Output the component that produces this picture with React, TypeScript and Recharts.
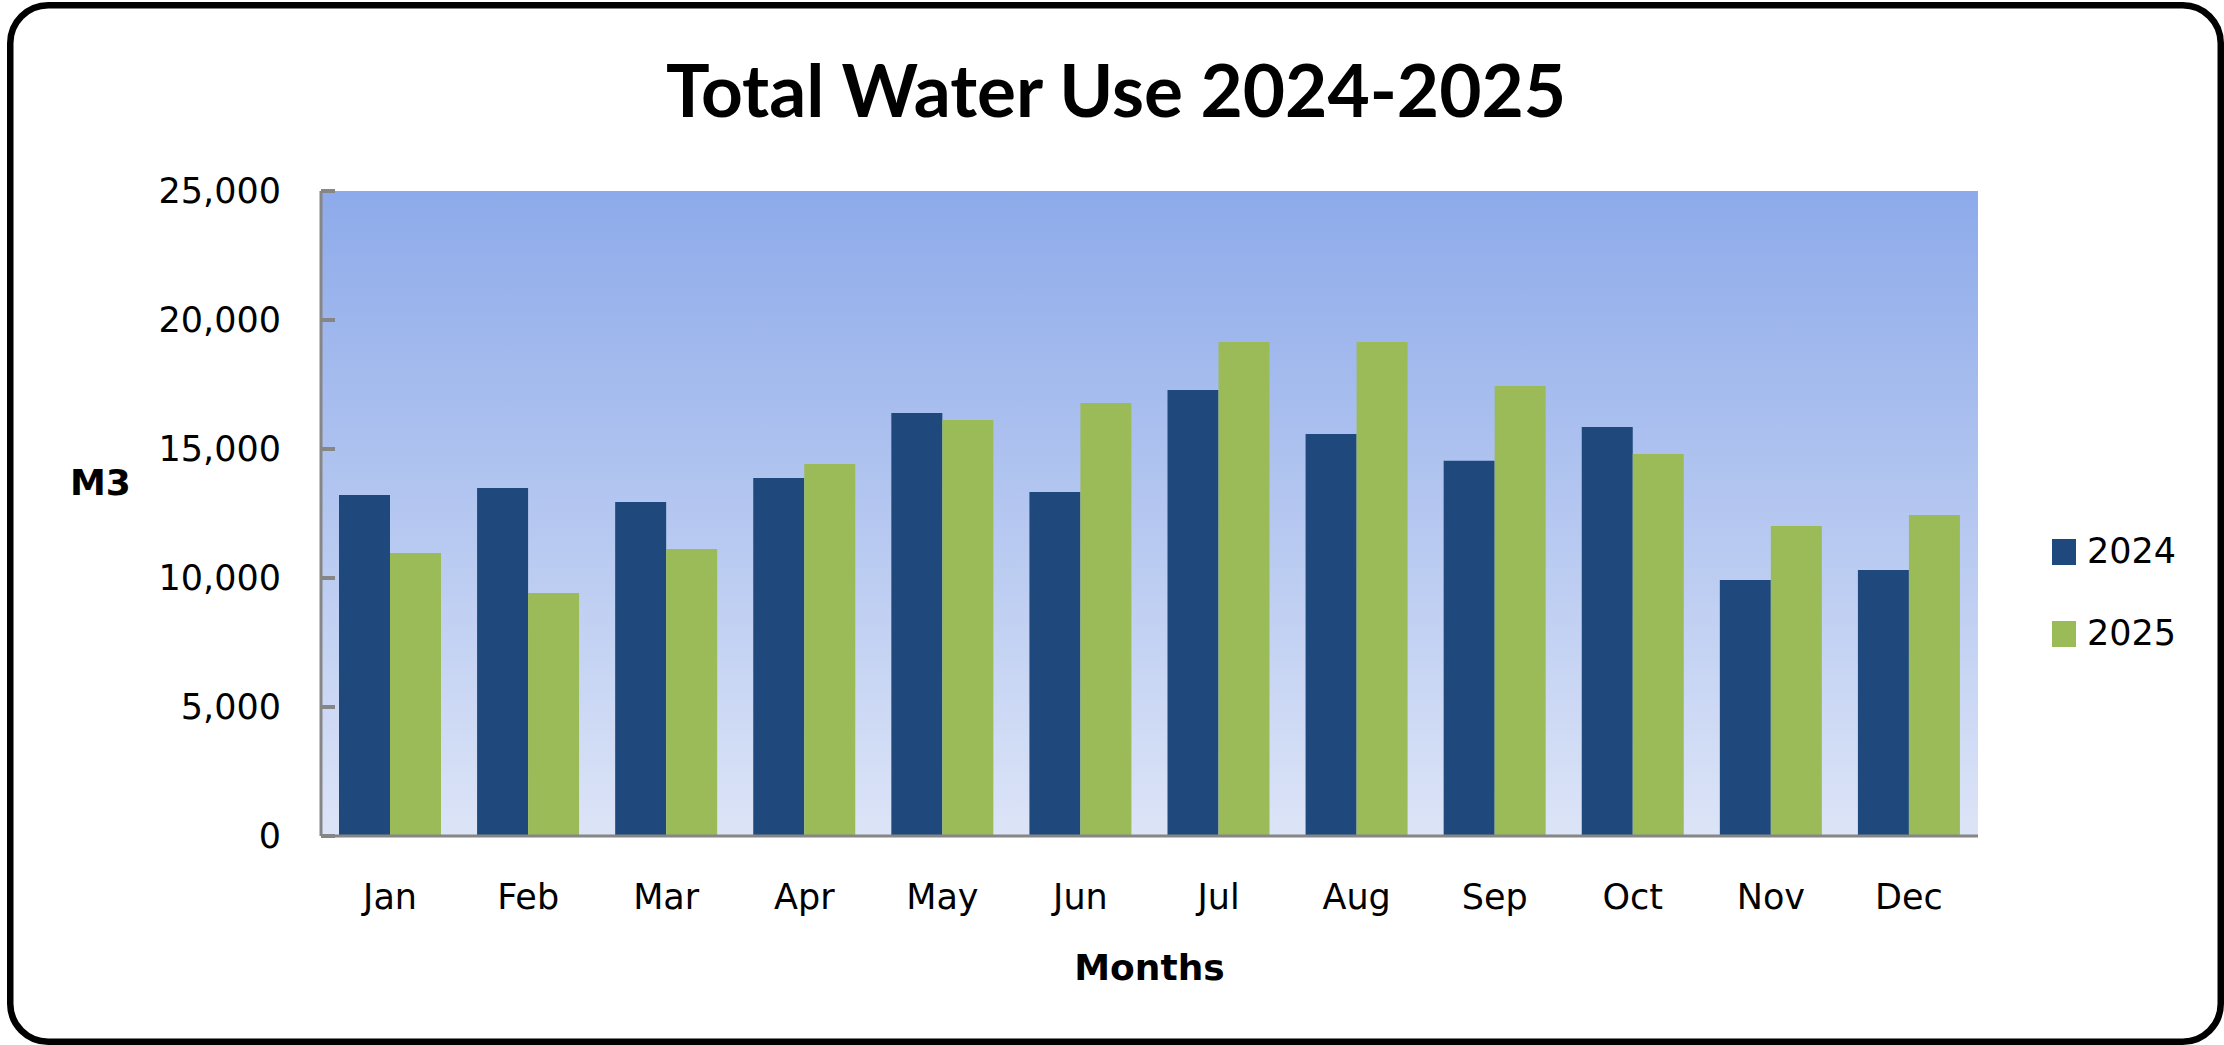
import React from 'react'
import { BarChart, Bar, XAxis, YAxis, CartesianGrid, Legend, Label } from 'recharts'

const months = ['Jan', 'Feb', 'Mar', 'Apr', 'May', 'Jun', 'Jul', 'Aug', 'Sep', 'Oct', 'Nov', 'Dec']
const use2024 = [13220, 13490, 12950, 13880, 16400, 13330, 17290, 15580, 14540, 15850, 9920, 10310]
const use2025 = [10970, 9420, 11120, 14420, 16120, 16780, 19150, 19150, 17440, 14810, 12020, 12440]
const yTicks = [0, 5000, 10000, 15000, 20000, 25000]

const W = 2224
const H = 1045
const FONT = "'DejaVu Sans', Verdana, sans-serif"

const data = months.map((m, i) => ({ month: m, y2024: use2024[i], y2025: use2025[i] }))

const LegendBox = ({ payload }: any) => (
    <div style={{ fontFamily: FONT }}>
        {(payload || []).map((p: any) => (
            <div key={p.value} style={{ display: 'flex', alignItems: 'center', height: 27, marginBottom: 55 }}>
                <span style={{ width: 24, height: 26, background: p.color, display: 'inline-block' }} />
                <span style={{ marginLeft: 11, fontSize: 35, color: '#000', lineHeight: '27px' }}>{p.value}</span>
            </div>
        ))}
    </div>
)

export default function App() {
    return (
        <div style={{ position: 'absolute', left: 0, top: 0, width: W, height: H, background: '#fff' }}>
            <BarChart
                width={W}
                height={H}
                data={data}
                margin={{ top: 191, right: 246, bottom: 0, left: 0 }}
                barCategoryGap={18}
                barGap={0}
            >
                <defs>
                    <linearGradient id="plotBg" x1="0" y1="0" x2="0" y2="1">
                        <stop offset="0%" stopColor="#8DAAEA" />
                        <stop offset="100%" stopColor="#DCE4F7" />
                    </linearGradient>
                </defs>
                <CartesianGrid horizontal={false} vertical={false} fill="url(#plotBg)" stroke="none" />
                <XAxis
                    dataKey="month"
                    height={209}
                    tickLine={false}
                    tickSize={0}
                    tickMargin={48}
                    axisLine={{ stroke: '#868686', strokeWidth: 3 }}
                    tick={{ fill: '#000', fontSize: 35, fontFamily: FONT }}
                >
                    <Label
                        value="Months"
                        position="insideBottom"
                        offset={65}
                        style={{ fill: '#000', fontSize: 36, fontWeight: 'bold', fontFamily: FONT }}
                    />
                </XAxis>
                <YAxis
                    width={321}
                    domain={[0, 25000]}
                    ticks={yTicks}
                    interval={0}
                    tickSize={-14}
                    tickMargin={54}
                    tickFormatter={(v: number) => v.toLocaleString('en-US')}
                    axisLine={{ stroke: '#868686', strokeWidth: 3 }}
                    tickLine={{ stroke: '#868686', strokeWidth: 4 }}
                    tick={{ fill: '#000', fontSize: 35, fontFamily: FONT }}
                >
                    <Label
                        value="M3"
                        position="insideLeft"
                        offset={70}
                        dy={-31}
                        style={{ fill: '#000', fontSize: 36, fontWeight: 'bold', fontFamily: FONT }}
                    />
                </YAxis>
                <Legend
                    layout="vertical"
                    align="center"
                    verticalAlign="middle"
                    content={<LegendBox />}
                    wrapperStyle={{ left: 2052, top: 538, width: 160 }}
                />
                <Bar dataKey="y2024" name="2024" fill="#1F497D" isAnimationActive={false} />
                <Bar dataKey="y2025" name="2025" fill="#9BBB59" isAnimationActive={false} />
            </BarChart>
            <svg width={W} height={H} style={{ position: 'absolute', left: 0, top: 0, pointerEvents: 'none' }}>
                <rect x={10.25} y={5.25} width={2210.5} height={1036.5} rx={38} ry={38} fill="none" stroke="#000" strokeWidth={6.5} />
                <text
                    x={1116}
                    y={117}
                    textAnchor="middle"
                    textLength={900}
                    lengthAdjust="spacingAndGlyphs"
                    style={{ fontFamily: 'Lato, sans-serif', fontWeight: 700, fontSize: 73, fill: '#000' }}
                >
                    Total Water Use 2024-2025
                </text>
            </svg>
        </div>
    )
}
